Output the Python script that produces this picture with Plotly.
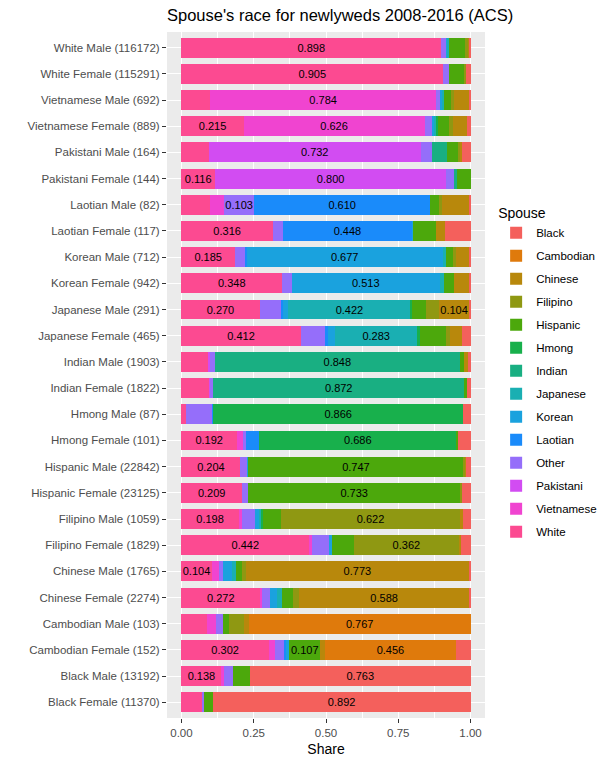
import plotly.graph_objects as go

rows = [
    "White Male (116172)", "White Female (115291)", "Vietnamese Male (692)",
    "Vietnamese Female (889)", "Pakistani Male (164)", "Pakistani Female (144)",
    "Laotian Male (82)", "Laotian Female (117)", "Korean Male (712)",
    "Korean Female (942)", "Japanese Male (291)", "Japanese Female (465)",
    "Indian Male (1903)", "Indian Female (1822)", "Hmong Male (87)",
    "Hmong Female (101)", "Hispanic Male (22842)", "Hispanic Female (23125)",
    "Filipino Male (1059)", "Filipino Female (1829)", "Chinese Male (1765)",
    "Chinese Female (2274)", "Cambodian Male (103)", "Cambodian Female (152)",
    "Black Male (13192)", "Black Female (11370)",
]

# share of each spouse race, one value per row (top to bottom)
black = [.005, .017, .005, .012, .030, 0, .004, .089, .005, .007, .005, .030, .010,
         .014, .025, .045, .017, .031, .025, .034, .005, .005, 0, .049, .763, .892]
cambodian = [0, 0, 0, 0, 0, 0, 0, 0, 0, 0, 0, 0, 0,
             0, 0, 0, 0, 0, 0, 0, 0, 0, .767, .456, 0, 0]
chinese = [.003, 0, .051, .050, .005, 0, .095, .030, .045, .049, .104, .040, .012,
           0, 0, 0, .002, 0, .010, .007, .773, .588, .018, .015, 0, 0]
filipino = [.010, .003, .010, .012, .008, 0, .010, 0, .010, 0, .045, .015, 0,
            0, 0, 0, .004, .005, .622, .362, .013, .020, .050, 0, 0, 0]
hispanic = [.058, .055, .025, .040, .040, .046, .030, .079, .025, .035, .050, .090, .015,
            .006, 0, .002, .747, .733, .060, .075, .020, .040, .020, .107, .057, .030]
hmong = [0, 0, 0, .005, 0, 0, 0, 0, 0, 0, .004, .010, 0,
         0, .866, .686, 0, 0, .008, 0, 0, 0, 0, 0, 0, 0]
indian = [0, 0, 0, 0, .050, .010, 0, 0, 0, 0, 0, 0, .848,
          .872, 0, 0, 0, 0, 0, 0, 0, 0, 0, 0, 0, 0]
japanese = [.003, 0, .005, .005, 0, 0, 0, 0, .012, .015, .422, .283, 0,
            0, 0, 0, 0, 0, .005, 0, .015, .015, 0, 0, 0, 0]
korean = [.003, 0, .010, .010, 0, 0, 0, .004, .677, .513, .020, .025, 0,
          0, 0, 0, .003, 0, .015, .012, .030, .025, 0, .010, 0, 0]
laotian = [0, 0, 0, 0, 0, 0, .610, .448, .004, 0, .005, .010, 0,
           0, .003, .045, 0, 0, 0, 0, 0, 0, 0, .006, 0, 0]
other = [.020, .020, .012, .025, .040, .028, .103, .034, .037, .033, .075, .085, .015,
         .006, .089, .010, .023, .022, .045, .058, .015, .030, .025, .035, .032, .006]
pakistani = [0, 0, 0, 0, .732, .800, 0, 0, 0, 0, 0, 0, .005,
             .007, 0, 0, 0, 0, 0, 0, 0, 0, 0, 0, 0, 0]
vietnamese = [0, 0, .784, .626, 0, 0, .050, 0, 0, 0, 0, 0, 0,
              0, 0, .020, 0, 0, .012, .010, .025, .005, .030, .020, .010, 0]
white = [.898, .905, .098, .215, .095, .116, .098, .316, .185, .348, .270, .412, .095,
         .095, .017, .192, .204, .209, .198, .442, .104, .272, .090, .302, .138, .072]

# stacked left to right: White first, Black last
series = [
    ("White", white, "#FC4A91"),
    ("Vietnamese", vietnamese, "#F044D0"),
    ("Pakistani", pakistani, "#D24CF2"),
    ("Other", other, "#956EFA"),
    ("Laotian", laotian, "#1A8BFA"),
    ("Korean", korean, "#1AA2DE"),
    ("Japanese", japanese, "#1AAFB2"),
    ("Indian", indian, "#19AF82"),
    ("Hmong", hmong, "#18B04C"),
    ("Hispanic", hispanic, "#4CA80C"),
    ("Filipino", filipino, "#8F9812"),
    ("Chinese", chinese, "#B8880C"),
    ("Cambodian", cambodian, "#DF7A0C"),
    ("Black", black, "#F4605C"),
]

FONT = "Liberation Sans, Arial, sans-serif"

fig = go.Figure()
for i, (name, vals, col) in enumerate(series):
    fig.add_trace(go.Bar(
        y=rows, x=vals, name=name, orientation="h",
        marker=dict(color=col, line=dict(width=0)),
        text=[f"{v:.3f}" if v >= 0.1 else "" for v in vals],
        textposition="inside", insidetextanchor="middle", textangle=0,
        constraintext="none",
        textfont=dict(color="black", size=11, family=FONT),
        legendgroup=name,
        legendrank=len(series) - i,  # Black on top of the legend
        hoverinfo="skip",
    ))

fig.update_layout(
    barmode="stack",
    bargap=0.24,
    width=611, height=759,
    margin=dict(l=167, r=126, t=32, b=41, autoexpand=False),
    paper_bgcolor="white",
    plot_bgcolor="#EBEBEB",
    font=dict(family=FONT, color="#4D4D4D", size=11.5),
    title=dict(
        text="Spouse's race for newlyweds 2008-2016 (ACS)",
        x=0, xref="paper", xanchor="left",
        y=1 - 15 / 759, yref="container", yanchor="middle",
        font=dict(size=16.5, color="black", family=FONT),
    ),
    legend=dict(
        title=dict(text="Spouse", font=dict(size=14, color="black")),
        traceorder="grouped",
        tracegroupgap=4,
        x=1.035, xanchor="left", y=0.755, yanchor="top",
        font=dict(size=11.5, color="black"),
        bgcolor="rgba(0,0,0,0)",
    ),
)

fig.update_xaxes(
    range=[-0.05, 1.05],
    tickvals=[0, 0.25, 0.5, 0.75, 1.0],
    ticktext=["0.00", "0.25", "0.50", "0.75", "1.00"],
    ticks="outside", ticklen=4, tickcolor="#333333", tickwidth=1,
    tickfont=dict(size=11.5, color="#4D4D4D"),
    showgrid=True, gridcolor="white", gridwidth=1.2,
    minor=dict(tick0=0.125, dtick=0.25, showgrid=True, gridcolor="white", gridwidth=0.6),
    zeroline=False, showline=False, automargin=False,
    title=dict(text="Share", font=dict(size=14, color="black"), standoff=6),
)
fig.update_yaxes(
    categoryorder="array", categoryarray=rows,
    range=[len(rows) - 0.4, -0.6],
    ticks="outside", ticklen=4, tickcolor="#333333", tickwidth=1,
    tickfont=dict(size=11.5, color="#4D4D4D"),
    showgrid=True, gridcolor="white", gridwidth=1.2,
    zeroline=False, showline=False, automargin=False,
)

# the page body has a default margin; drop it so the figure fills the window
fig.write_html("out.html", config=dict(displayModeBar=False),
               post_script="document.body.style.margin = '0';")
